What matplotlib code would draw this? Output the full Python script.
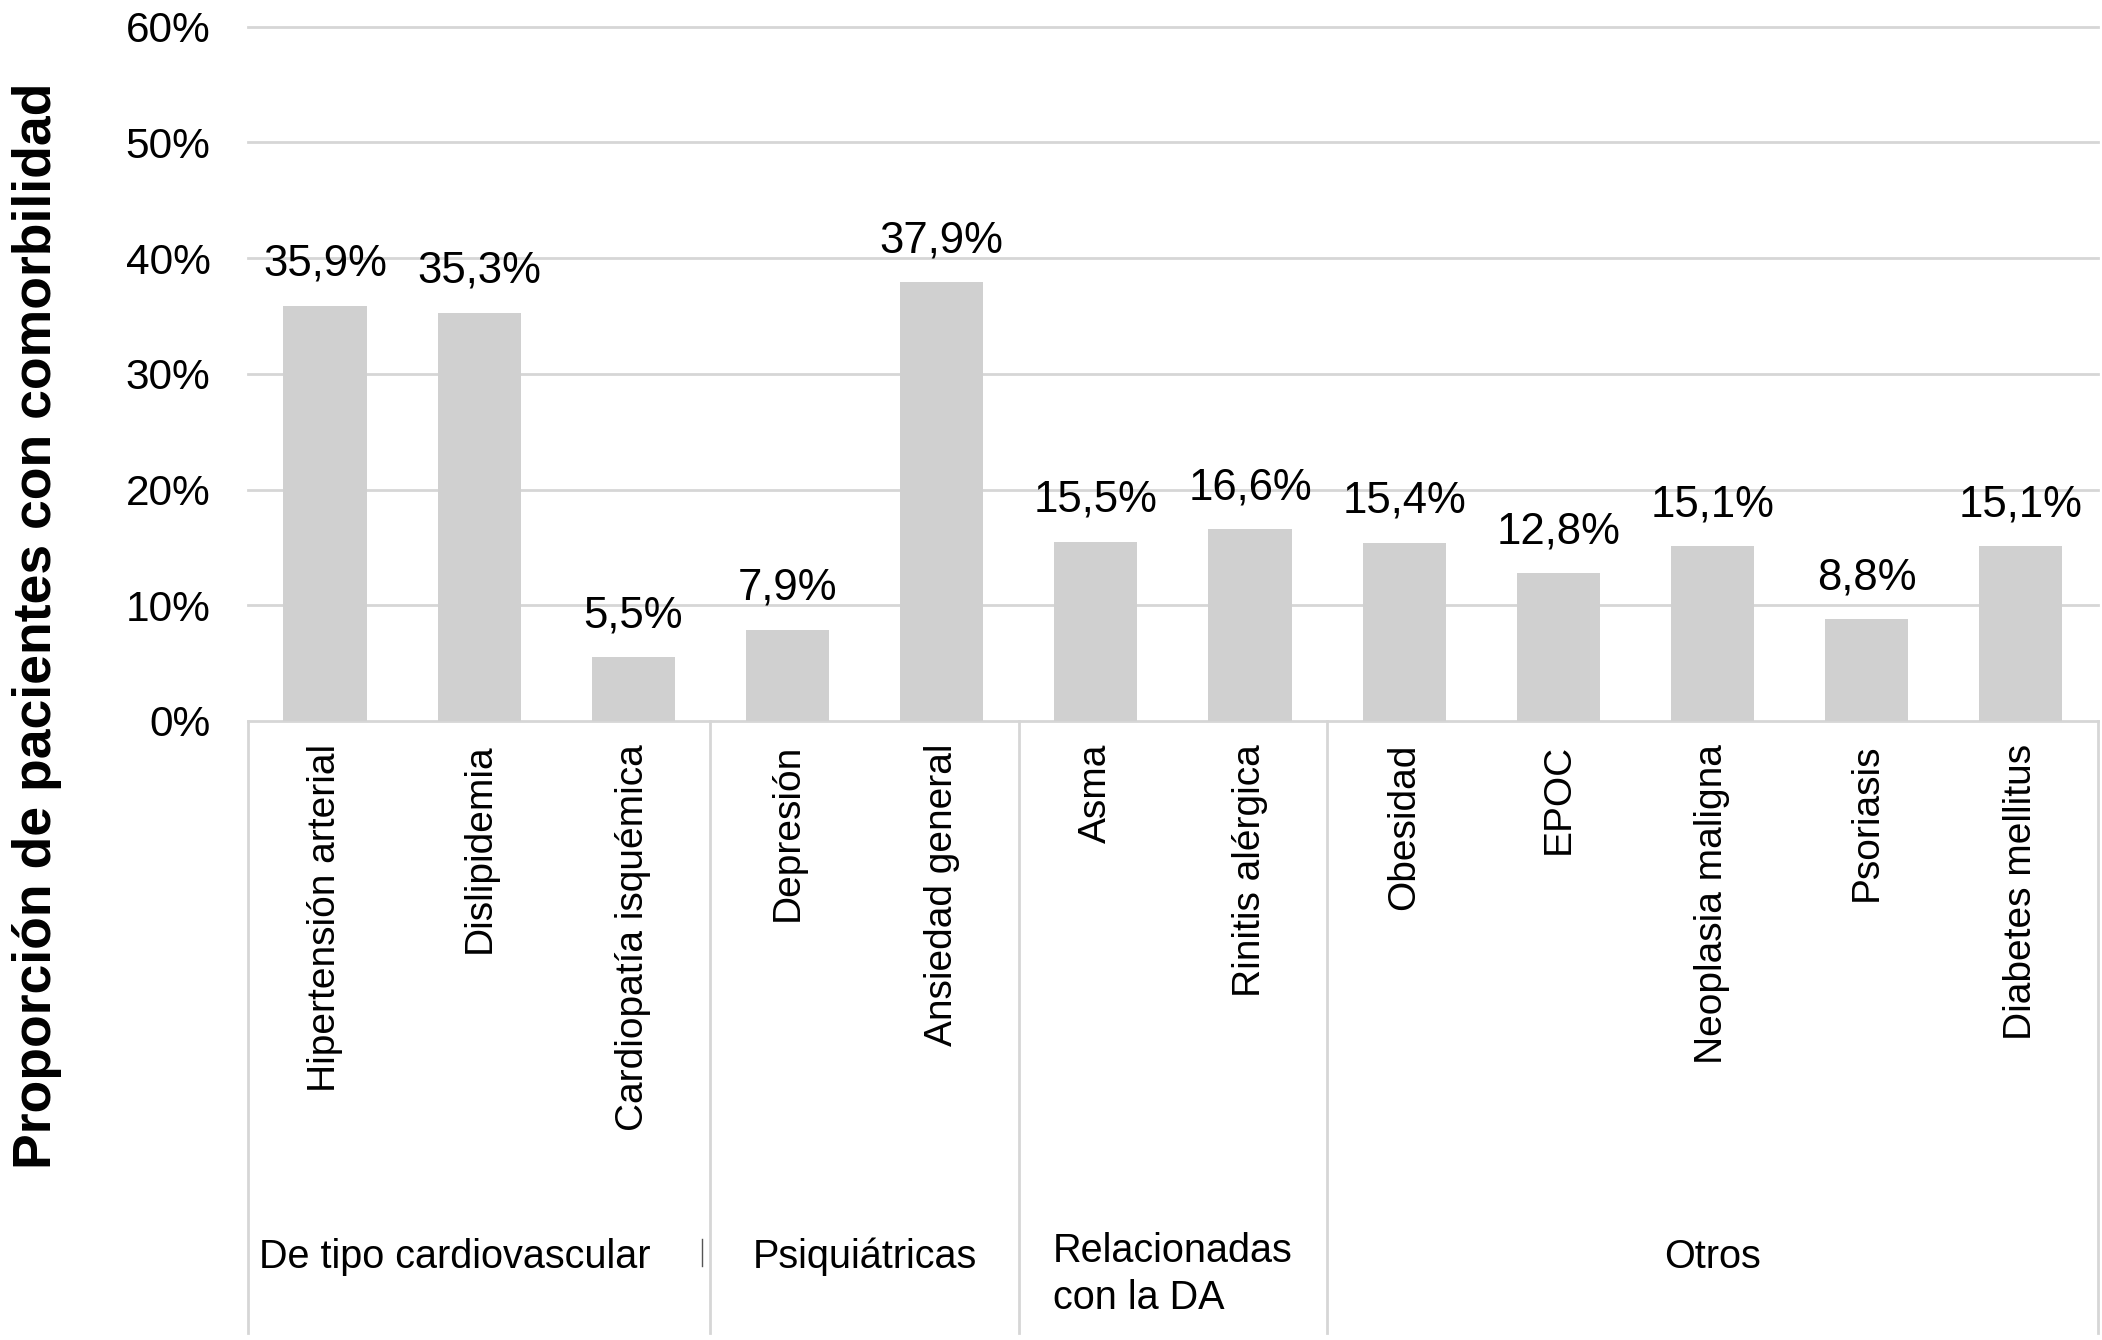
import matplotlib
matplotlib.use("Agg")
import matplotlib.pyplot as plt
import matplotlib.transforms as mtransforms
import numpy as np

plt.rcParams['font.family'] = ['Liberation Sans', 'DejaVu Sans']

# datos
categorias = ["Hipertensión arterial", "Dislipidemia", "Cardiopatía isquémica",
              "Depresión", "Ansiedad general",
              "Asma", "Rinitis alérgica",
              "Obesidad", "EPOC", "Neoplasia maligna", "Psoriasis", "Diabetes mellitus"]
valores = [35.9, 35.3, 5.5, 7.9, 37.9, 15.5, 16.6, 15.4, 12.8, 15.1, 8.8, 15.1]
grupos = ["De tipo cardiovascular", "Psiquiátricas", "Relacionadas\ncon la DA", "Otros"]
tam_grupos = [3, 2, 2, 5]
yticks = [0, 10, 20, 30, 40, 50, 60]

gris = '#d6d6d6'

fig = plt.figure(figsize=(21.02, 13.40), dpi=100)
ax = fig.add_axes([0.118, 0.462, 0.88, 0.518])

x = np.arange(len(categorias))
ax.bar(x, valores, width=0.54, color='#d0d0d0', zorder=3)

for xi, v in zip(x, valores):
    ax.annotate(f"{v:.1f}%".replace('.', ','), (xi, v), xytext=(0, 15),
                textcoords='offset points', ha='center', va='bottom', fontsize=31.5)

ax.set_xlim(-0.5, len(categorias) - 0.5)
ax.set_ylim(0, 60)
ax.set_yticks(yticks)
ax.set_yticklabels([f"{t}%" for t in yticks], fontsize=30.5)
ax.tick_params(axis='y', length=0, pad=27)
ax.set_xticks([])
for s in ax.spines.values():
    s.set_visible(False)
for t in yticks:
    ax.axhline(t, color=gris, lw=2, zorder=1, clip_on=False)

trans = mtransforms.blended_transform_factory(ax.transData, ax.transAxes)

# etiquetas de categorias
for xi, c in zip(x, categorias):
    ax.text(xi, -0.033, c, rotation=90, ha='center', va='top', fontsize=28,
            transform=trans)

# cajas de grupos
bordes = np.concatenate([[0], np.cumsum(tam_grupos)]) - 0.5
for b in bordes:
    ax.plot([b, b], [0, -0.882], color=gris, lw=2, transform=trans, clip_on=False)

for i, g in enumerate(grupos):
    centro = (bordes[i] + bordes[i + 1]) / 2
    if i == 0:
        ax.text(-0.43, -0.772, g, ha='left', va='center', fontsize=28.5, transform=trans)
    elif "\n" in g:
        ax.text(centro, -0.797, g, ha='center', va='center', multialignment='left',
                fontsize=28.5, linespacing=1.3, transform=trans)
    else:
        ax.text(centro, -0.772, g, ha='center', va='center', fontsize=28.5, transform=trans)

# marca suelta junto a la primera caja
ax.plot([2.448, 2.448], [-0.747, -0.786], color='#555555', lw=1, transform=trans, clip_on=False)

fig.text(0.0178, 0.533, "Proporción de pacientes con comorbilidad", rotation=90,
         ha='center', va='center', fontsize=38.5, fontweight='bold')

fig.savefig("out.png", dpi=100)
